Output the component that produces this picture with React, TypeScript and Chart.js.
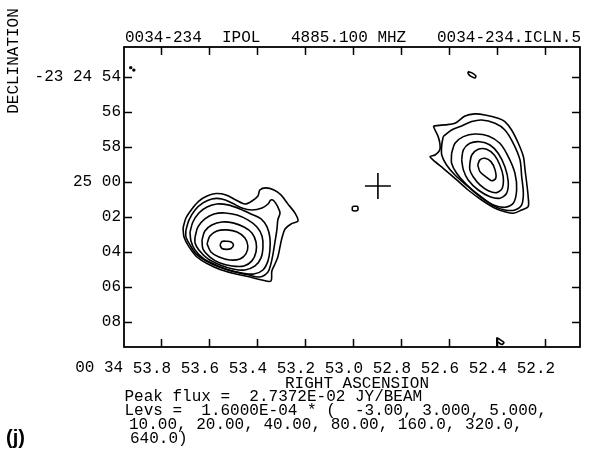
import React, { useEffect, useRef } from "react";
import { Chart, registerables } from "chart.js";

Chart.register(...registerables);

type Pt = [number, number];

// ---- axes ----
const raTicks = [53.8, 53.6, 53.4, 53.2, 53.0, 52.8, 52.6, 52.4, 52.2];
const raTickLabels = ["53.8", "53.6", "53.4", "53.2", "53.0", "52.8", "52.6", "52.4", "52.2"];
const decTicks = [54, 56, 58, 60, 62, 64, 66, 68];
const decTickLabels = ["-23 24 54", "56", "58", "25 00", "02", "04", "06", "08"];
const raRange = [52.054, 53.954];
const decRange = [52.29, 69.43];

// ---- texts ----
const titleParts = ["0034-234", "IPOL", "4885.100 MHZ", "0034-234.ICLN.5"];
const raPrefix = "00 34";
const xTitle = "RIGHT ASCENSION";
const yTitle = "DECLINATION";
const footerLines = [
  "Peak flux =  2.7372E-02 JY/BEAM",
  "Levs =  1.6000E-04 * (  -3.00, 3.000, 5.000,",
  "10.00, 20.00, 40.00, 80.00, 160.0, 320.0,",
  "640.0)",
];
const panelLabel = "(j)";

// ---- contours (RA seconds, Dec arcsec past -23 24 00) ----
const eastLobe3: Pt[] = [[53.708,62.63],[53.696,62.06],[53.671,61.54],[53.642,61.09],[53.608,60.80],[53.571,60.66],[53.529,60.74],[53.488,61.03],[53.450,61.26],[53.421,61.09],[53.396,60.80],[53.388,60.46],[53.363,60.34],[53.329,60.46],[53.300,60.74],[53.271,61.26],[53.242,61.77],[53.229,62.23],[53.258,62.40],[53.283,62.69],[53.296,63.20],[53.304,63.71],[53.313,64.29],[53.325,64.69],[53.338,65.09],[53.342,65.66],[53.379,65.60],[53.438,65.40],[53.496,65.23],[53.554,65.00],[53.608,64.66],[53.650,64.29],[53.683,63.71],[53.704,63.14]];
const eastLobe5: Pt[] = [[53.696,62.74],[53.683,62.17],[53.658,61.60],[53.625,61.20],[53.588,60.97],[53.546,60.97],[53.504,61.20],[53.463,61.49],[53.421,61.60],[53.379,61.49],[53.354,61.26],[53.342,61.03],[53.329,61.09],[53.313,61.43],[53.304,61.77],[53.313,62.17],[53.317,62.74],[53.325,63.43],[53.333,64.11],[53.342,64.69],[53.354,65.14],[53.388,65.43],[53.442,65.29],[53.500,65.11],[53.558,64.86],[53.613,64.51],[53.654,64.11],[53.679,63.60],[53.696,63.14]];
const eastLobe10: Pt[] = [[53.679,62.86],[53.667,62.29],[53.642,61.77],[53.608,61.43],[53.567,61.26],[53.521,61.31],[53.471,61.54],[53.425,61.83],[53.383,62.11],[53.358,62.57],[53.346,63.20],[53.346,63.89],[53.354,64.51],[53.375,65.03],[53.413,65.26],[53.463,65.20],[53.517,65.03],[53.571,64.74],[53.621,64.40],[53.658,63.89],[53.675,63.37]];
const eastLobe20: Pt[] = [[53.658,63.14],[53.646,62.57],[53.617,62.11],[53.579,61.83],[53.533,61.77],[53.483,61.89],[53.438,62.17],[53.400,62.57],[53.379,63.09],[53.375,63.71],[53.383,64.34],[53.408,64.80],[53.450,65.03],[53.500,64.97],[53.554,64.74],[53.604,64.40],[53.642,63.89],[53.658,63.49]];
const eastLobe40: Pt[] = [[53.629,63.31],[53.617,62.80],[53.588,62.46],[53.546,62.29],[53.500,62.34],[53.454,62.57],[53.421,62.91],[53.404,63.43],[53.404,64.00],[53.421,64.51],[53.454,64.80],[53.504,64.80],[53.554,64.63],[53.596,64.29],[53.625,63.83]];
const eastLobe80: Pt[] = [[53.608,63.54],[53.596,63.09],[53.567,62.80],[53.525,62.74],[53.483,62.86],[53.450,63.20],[53.438,63.66],[53.446,64.11],[53.471,64.40],[53.513,64.46],[53.558,64.29],[53.592,64.00]];
const eastLobe160: Pt[] = [[53.554,63.60],[53.546,63.40],[53.526,63.39],[53.508,63.43],[53.498,63.60],[53.508,63.80],[53.526,63.85],[53.546,63.80]];

const westLobe3: Pt[] = [[52.665,56.80],[52.617,56.74],[52.575,56.65],[52.533,56.23],[52.492,56.11],[52.450,56.17],[52.395,56.36],[52.367,56.55],[52.339,57.03],[52.311,57.79],[52.290,58.55],[52.283,59.31],[52.276,60.07],[52.270,60.84],[52.270,61.41],[52.297,61.60],[52.332,61.79],[52.367,61.70],[52.408,61.50],[52.464,61.03],[52.520,60.46],[52.575,59.79],[52.624,59.22],[52.658,58.84],[52.679,58.55],[52.658,58.46],[52.638,58.17],[52.638,57.79],[52.645,57.41],[52.658,57.03]];
const westLobe5: Pt[] = [[52.624,57.41],[52.589,57.03],[52.547,56.80],[52.505,56.55],[52.464,56.46],[52.408,56.65],[52.367,57.03],[52.332,57.79],[52.304,58.74],[52.297,59.70],[52.290,60.65],[52.297,61.31],[52.325,61.60],[52.367,61.60],[52.408,61.41],[52.464,60.87],[52.520,60.27],[52.575,59.60],[52.610,59.03],[52.630,58.46],[52.630,57.89]];
const westLobe10: Pt[] = [[52.589,58.36],[52.575,57.79],[52.540,57.41],[52.492,57.26],[52.436,57.37],[52.388,57.79],[52.353,58.55],[52.325,59.50],[52.318,60.46],[52.332,61.22],[52.367,61.45],[52.415,61.31],[52.471,60.84],[52.526,60.17],[52.568,59.50],[52.589,58.93]];
const westLobe20: Pt[] = [[52.547,58.74],[52.540,58.17],[52.513,57.79],[52.471,57.70],[52.429,57.89],[52.395,58.36],[52.367,59.13],[52.353,59.98],[52.360,60.65],[52.388,60.93],[52.429,60.84],[52.478,60.46],[52.520,59.89],[52.540,59.31]];
const westLobe40: Pt[] = [[52.513,58.93],[52.505,58.46],[52.478,58.13],[52.443,58.13],[52.411,58.46],[52.388,59.03],[52.374,59.70],[52.378,60.36],[52.401,60.61],[52.436,60.50],[52.471,60.17],[52.499,59.70],[52.513,59.31]];
const westLobe80: Pt[] = [[52.480,59.03],[52.471,58.74],[52.450,58.65],[52.425,58.84],[52.408,59.31],[52.405,59.79],[52.422,59.93],[52.447,59.70],[52.471,59.41]];

const coreKnot: Pt[] = [[53.002,61.40],[52.981,61.40],[52.981,61.63],[53.002,61.63]];
const northKnot: Pt[] = [[52.521,53.69],[52.504,53.77],[52.488,53.94],[52.492,54.06],[52.508,53.97],[52.519,53.83]];
const southKnot: Pt[] = [[52.400,69.43],[52.400,68.91],[52.388,69.00],[52.371,69.17],[52.379,69.29],[52.394,69.17],[52.400,69.10]];
const cornerDots: Pt[] = [[53.926,53.47],[53.913,53.61]];
const pointingCentre: Pt[] = [[52.896, 60.23]];

const closedContours: Pt[][] = [
  eastLobe3, eastLobe5, eastLobe10, eastLobe20, eastLobe40, eastLobe80, eastLobe160,
  westLobe3, westLobe5, westLobe10, westLobe20, westLobe40, westLobe80,
  coreKnot, northKnot,
];

const MONO = "'Liberation Mono', 'DejaVu Sans Mono', monospace";
const LABEL_OFFSET = -9;

const framePlugin = {
  id: "aipsFrame",
  afterDraw(chart: any) {
    const ctx = chart.ctx as CanvasRenderingContext2D;
    const { left, right, top, bottom } = chart.chartArea;
    const xs = chart.scales.x;
    const ys = chart.scales.y;
    ctx.save();
    ctx.strokeStyle = "#000";
    ctx.fillStyle = "#000";
    ctx.lineWidth = 1.8;
    ctx.strokeRect(left, top, right - left, bottom - top);
    ctx.lineWidth = 1.5;
    ctx.beginPath();
    raTicks.forEach((v) => {
      const x = Math.round(xs.getPixelForValue(v)) + 0.5;
      ctx.moveTo(x, bottom); ctx.lineTo(x, bottom - 8);
      ctx.moveTo(x, top); ctx.lineTo(x, top + 8);
    });
    decTicks.forEach((v) => {
      const y = Math.round(ys.getPixelForValue(v)) + 0.5;
      ctx.moveTo(left, y); ctx.lineTo(left + 8, y);
      ctx.moveTo(right, y); ctx.lineTo(right - 8, y);
    });
    ctx.stroke();

    ctx.font = `16px ${MONO}`;
    ctx.textBaseline = "alphabetic";
    // title
    ctx.textAlign = "left";
    ctx.fillText(titleParts[0], 125, 41.5);
    ctx.fillText(titleParts[1], 222, 41.5);
    ctx.fillText(titleParts[2], 291, 41.5);
    ctx.textAlign = "right";
    ctx.fillText(titleParts[3], 581, 41.5);

    // RA prefix before first tick label
    const firstX = xs.getPixelForValue(raTicks[0]) + LABEL_OFFSET;
    const half = ctx.measureText(raTickLabels[0]).width / 2;
    const sp = ctx.measureText(" ").width;
    ctx.textAlign = "right";
    ctx.textBaseline = "middle";
    ctx.fillText(raPrefix, firstX - half - sp, bottom + 21);

    // x title
    ctx.textBaseline = "alphabetic";
    ctx.textAlign = "center";
    ctx.fillText(xTitle, 357, 388);

    // footer
    ctx.textAlign = "left";
    ctx.fillText(footerLines[0], 124.5, 400.5);
    ctx.fillText(footerLines[1], 124.5, 414.5);
    ctx.fillText(footerLines[2], 129, 428.5);
    ctx.fillText(footerLines[3], 130, 442.5);

    // y title
    ctx.save();
    ctx.translate(13.5, 61);
    ctx.rotate(-Math.PI / 2);
    ctx.textAlign = "center";
    ctx.textBaseline = "middle";
    ctx.fillText(yTitle, 0, 0);
    ctx.restore();

    // panel label
    ctx.font = "bold 20px 'Liberation Sans', Arial, sans-serif";
    ctx.textAlign = "left";
    ctx.textBaseline = "alphabetic";
    ctx.fillText(panelLabel, 6, 444);
    ctx.restore();
  },
};

export default function App() {
  const ref = useRef<HTMLCanvasElement>(null);
  useEffect(() => {
    const canvas = ref.current;
    if (!canvas) return;
    const toXY = (p: Pt[]) => p.map(([x, y]) => ({ x, y }));
    const lineBase = {
      showLine: true,
      borderColor: "#000",
      backgroundColor: "#000",
      borderWidth: 1.6,
      pointRadius: 0,
      pointHoverRadius: 0,
      fill: false,
    };
    const datasets: any[] = closedContours.map((p) => ({
      ...lineBase,
      tension: 0.3,
      data: toXY([...p, p[0]]),
    }));
    datasets.push({ ...lineBase, tension: 0.2, data: toXY(southKnot) });
    datasets.push({
      showLine: false,
      data: toXY(cornerDots),
      pointStyle: "circle",
      pointRadius: 1.7,
      backgroundColor: "#000",
      borderColor: "#000",
      borderWidth: 0,
    });
    datasets.push({
      showLine: false,
      data: toXY(pointingCentre),
      pointStyle: "cross",
      pointRadius: 13,
      borderColor: "#000",
      borderWidth: 1.6,
    });

    const chart = new Chart(canvas, {
      type: "scatter",
      data: { datasets },
      plugins: [framePlugin],
      options: {
        animation: false,
        responsive: true,
        maintainAspectRatio: false,
        layout: { padding: { left: 0, right: 18, top: 47, bottom: 0 } },
        plugins: { legend: { display: false }, tooltip: { enabled: false }, title: { display: false } },
        events: [],
        scales: {
          x: {
            type: "linear",
            position: "bottom",
            reverse: true,
            min: raRange[0],
            max: raRange[1],
            grid: { display: false, drawTicks: false },
            border: { display: false },
            afterBuildTicks: (s: any) => {
              s.ticks = raTicks.map((v) => ({ value: v }));
            },
            afterFit: (s: any) => {
              s.height = 111;
            },
            ticks: {
              autoSkip: false,
              maxRotation: 0,
              minRotation: 0,
              padding: 12,
              labelOffset: LABEL_OFFSET,
              color: "#000",
              font: { family: MONO, size: 16 },
              callback: (v: any) => {
                const i = raTicks.findIndex((t) => Math.abs(t - Number(v)) < 1e-6);
                return i >= 0 ? raTickLabels[i] : "";
              },
            },
          },
          y: {
            type: "linear",
            position: "left",
            reverse: true,
            min: decRange[0],
            max: decRange[1],
            grid: { display: false, drawTicks: false },
            border: { display: false },
            afterBuildTicks: (s: any) => {
              s.ticks = decTicks.map((v) => ({ value: v }));
            },
            afterFit: (s: any) => {
              s.width = 124;
            },
            ticks: {
              autoSkip: false,
              padding: 3,
              color: "#000",
              font: { family: MONO, size: 16 },
              callback: (v: any) => {
                const i = decTicks.findIndex((t) => Math.abs(t - Number(v)) < 1e-6);
                return i >= 0 ? decTickLabels[i] : "";
              },
            },
          },
        },
      } as any,
    });
    return () => chart.destroy();
  }, []);

  return (
    <div style={{ position: "absolute", left: 0, top: 0, width: 598, height: 458, background: "#fff" }}>
      <canvas ref={ref} />
    </div>
  );
}
